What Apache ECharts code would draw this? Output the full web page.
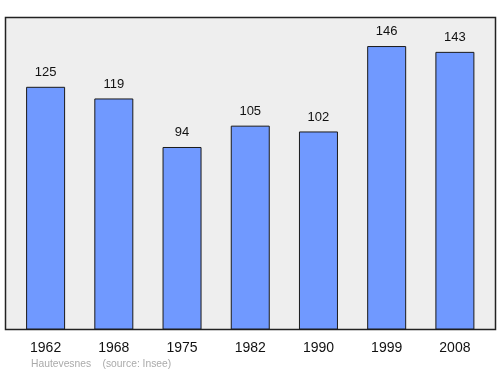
<!DOCTYPE html>
<html><head><meta charset="utf-8">
<script src="https://cdn.jsdelivr.net/npm/echarts@6/dist/echarts.min.js"></script>
<style>html,body{margin:0;padding:0;background:#fff}#c{width:500px;height:374px}</style>
</head><body><div id="c"></div>
<script>
const years = ['1962','1968','1975','1982','1990','1999','2008'];
const population = [125,119,94,105,102,146,143];
const footer = 'Hautevesnes    (source: Insee)';

const chart = echarts.init(document.getElementById('c'), null, {renderer:'canvas'});
chart.setOption({
  animation:false,
  graphic:[
    {type:'rect', shape:{x:5.5,y:17.5,width:490,height:312}, style:{fill:'#eeeeee', stroke:'#222', lineWidth:1.5}, z:-10},
    {type:'text', left:31, top:359, style:{text:footer, fill:'#aaaaaa', font:'10.3px "Liberation Sans", Arial, sans-serif'}}
  ],
  grid:{left:11.5, right:11, top:17.5, bottom:44.5, containLabel:false},
  xAxis:{type:'category', data:years, axisLine:{show:false}, axisTick:{show:false},
    axisLabel:{color:'#111', fontSize:14, fontFamily:'"Liberation Sans", Arial, sans-serif', margin:12}},
  yAxis:{type:'value', min:0, max:160.7, show:false, splitLine:{show:false}},
  series:[{type:'bar', data:population, barWidth:39,
    itemStyle:{color:'#7099ff', borderColor:'#1a1a1a', borderWidth:1},
    label:{show:true, position:'top', distance:8, color:'#111', fontSize:13, fontFamily:'"Liberation Sans", Arial, sans-serif'}}]
});
</script></body></html>
